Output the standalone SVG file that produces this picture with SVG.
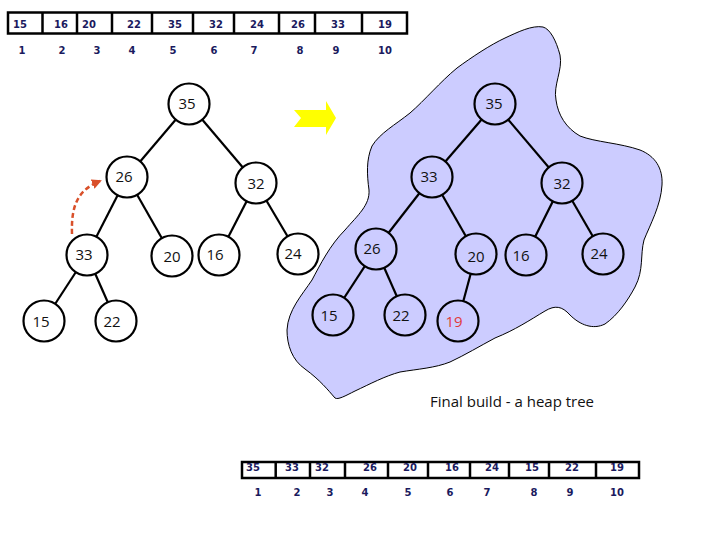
<svg xmlns="http://www.w3.org/2000/svg" width="720" height="540" viewBox="0 0 720 540">
<defs>
<style>
.tbl{fill:#ffffff;stroke:#000;stroke-width:2.5}
.div{stroke:#000;stroke-width:2.5}
.tv{font-family:"DejaVu Sans","Liberation Sans",sans-serif;font-size:10px;font-weight:bold;fill:#1a1a5e;text-anchor:middle}
.nd{fill:#ffffff;stroke:#000;stroke-width:2.2}
.ndb{fill:#ccccff;stroke:#000;stroke-width:2.2}
.lb{font-family:"Open Sans","Liberation Sans",sans-serif;font-size:15px;fill:#111;text-anchor:middle}
.edge{stroke:#000;stroke-width:2.2;fill:none}
</style>
<marker id="ah" viewBox="0 0 10 10" refX="8" refY="5" markerWidth="4" markerHeight="4" orient="auto">
<path d="M0,0 L10,5 L0,10 z" fill="#d9502a"/>
</marker>
</defs>
<rect width="720" height="540" fill="#ffffff"/>

<!-- top array -->
<g id="array-top">
<rect class="tbl" x="8" y="12.5" width="399" height="21"/>
<path class="div" d="M42.5,12.5V33.5M77,12.5V33.5M112,12.5V33.5M152,12.5V33.5M193,12.5V33.5M234,12.5V33.5M279,12.5V33.5M315,12.5V33.5M362,12.5V33.5"/>
<text class="tv" x="20" y="28">15</text>
<text class="tv" x="61" y="28">16</text>
<text class="tv" x="89" y="28">20</text>
<text class="tv" x="134" y="28">22</text>
<text class="tv" x="175" y="28">35</text>
<text class="tv" x="216" y="28">32</text>
<text class="tv" x="257" y="28">24</text>
<text class="tv" x="298" y="28">26</text>
<text class="tv" x="338" y="28">33</text>
<text class="tv" x="385" y="28">19</text>
<text class="tv" x="22" y="54">1</text>
<text class="tv" x="62" y="54">2</text>
<text class="tv" x="97" y="54">3</text>
<text class="tv" x="132" y="54">4</text>
<text class="tv" x="173" y="54">5</text>
<text class="tv" x="214" y="54">6</text>
<text class="tv" x="254" y="54">7</text>
<text class="tv" x="300" y="54">8</text>
<text class="tv" x="336" y="54">9</text>
<text class="tv" x="385" y="54">10</text>
</g>

<!-- blob -->
<path id="heap-region" d="M543,27 C550,29 556,40 560,55 C563,70 553,85 556,100 C558,115 566,128 580,136 C595,142 620,143 640,150 C655,156 663,168 662,185 C661,205 650,225 644,240 C640,255 644,270 635,287 C628,300 618,315 605,324 C593,330 580,325 570,315 C562,306 555,305 545,311 C530,320 515,330 495,338 C480,346 465,355 450,362 C435,368 418,369 400,372 C385,376 370,384 355,391 C345,396 338,400 335,398 C328,390 320,380 305,369 C292,360 287,345 287,330 C288,310 302,295 312,280 C320,265 330,245 345,230 C358,215 370,205 369,190 C367,175 366,160 372,146 C380,133 395,125 410,113 C425,100 440,82 457,68 C472,57 490,45 505,38 C518,32 532,25 543,27 Z" fill="#ccccff" stroke="#000" stroke-width="1"/>

<!-- yellow arrow -->
<polygon id="yellow-arrow" points="294,110 326,110 326,101 336,118 326,135 326,127 294,127 301,118" fill="#ffff00"/>

<!-- connectors -->
<g id="connectors">
<line class="edge" x1="189" y1="104" x2="127" y2="177"/>
<line class="edge" x1="189" y1="104" x2="256" y2="183"/>
<line class="edge" x1="127" y1="177" x2="87" y2="255"/>
<line class="edge" x1="127" y1="177" x2="172" y2="256"/>
<line class="edge" x1="256" y1="183" x2="219" y2="255"/>
<line class="edge" x1="256" y1="183" x2="298" y2="254"/>
<line class="edge" x1="87" y1="255" x2="44" y2="321"/>
<line class="edge" x1="87" y1="255" x2="116" y2="321"/>
<line class="edge" x1="495" y1="104" x2="432" y2="177"/>
<line class="edge" x1="495" y1="104" x2="562" y2="183"/>
<line class="edge" x1="432" y1="177" x2="376" y2="249"/>
<line class="edge" x1="432" y1="177" x2="476" y2="254"/>
<line class="edge" x1="562" y1="183" x2="526" y2="255"/>
<line class="edge" x1="562" y1="183" x2="603" y2="254"/>
<line class="edge" x1="376" y1="249" x2="333" y2="315"/>
<line class="edge" x1="376" y1="249" x2="405" y2="315"/>
<line class="edge" x1="476" y1="254" x2="458" y2="321"/>
<path d="M72,234 C71,205 78,190 100,181" fill="none" stroke="#d9502a" stroke-width="2.5" stroke-dasharray="5,3" marker-end="url(#ah)"/>
</g>

<!-- left tree nodes -->
<g id="L35"><circle class="nd" cx="189" cy="104" r="20.5"/><text class="lb" x="187" y="109">35</text></g>
<g id="L26"><circle class="nd" cx="127" cy="177" r="20.5"/><text class="lb" x="124" y="182">26</text></g>
<g id="L32"><circle class="nd" cx="256" cy="183" r="20.5"/><text class="lb" x="256" y="189">32</text></g>
<g id="L33"><circle class="nd" cx="87" cy="255" r="20.5"/><text class="lb" x="84" y="260">33</text></g>
<g id="L20"><circle class="nd" cx="172" cy="256" r="20.5"/><text class="lb" x="172" y="262">20</text></g>
<g id="L16"><circle class="nd" cx="219" cy="255" r="20.5"/><text class="lb" x="215" y="260">16</text></g>
<g id="L24"><circle class="nd" cx="298" cy="254" r="20.5"/><text class="lb" x="293" y="259">24</text></g>
<g id="L15"><circle class="nd" cx="44" cy="321" r="20.5"/><text class="lb" x="41" y="327">15</text></g>
<g id="L22"><circle class="nd" cx="116" cy="321" r="20.5"/><text class="lb" x="112" y="327">22</text></g>

<!-- right tree nodes -->
<g id="R35"><circle class="ndb" cx="495" cy="104" r="20.5"/><text class="lb" x="494" y="109">35</text></g>
<g id="R33"><circle class="ndb" cx="432" cy="177" r="20.5"/><text class="lb" x="429" y="182">33</text></g>
<g id="R32"><circle class="ndb" cx="562" cy="183" r="20.5"/><text class="lb" x="562" y="189">32</text></g>
<g id="R26"><circle class="ndb" cx="376" cy="249" r="20.5"/><text class="lb" x="372" y="254">26</text></g>
<g id="R20"><circle class="ndb" cx="476" cy="254" r="20.5"/><text class="lb" x="476" y="262">20</text></g>
<g id="R16"><circle class="ndb" cx="526" cy="255" r="20.5"/><text class="lb" x="521" y="261">16</text></g>
<g id="R24"><circle class="ndb" cx="603" cy="254" r="20.5"/><text class="lb" x="599" y="259">24</text></g>
<g id="R15"><circle class="ndb" cx="333" cy="315" r="20.5"/><text class="lb" x="329" y="321">15</text></g>
<g id="R22"><circle class="ndb" cx="405" cy="315" r="20.5"/><text class="lb" x="401" y="321">22</text></g>
<g id="R19"><circle class="ndb" cx="458" cy="321" r="20.5"/><text class="lb" x="454" y="327" fill="#e03a3a" style="fill:#e03a3a">19</text></g>

<text id="caption" x="512" y="407" font-family="Open Sans, Liberation Sans, sans-serif" font-size="15" fill="#111" text-anchor="middle">Final build - a heap tree</text>

<!-- bottom array -->
<g id="array-bottom">
<rect class="tbl" x="242" y="462" width="397" height="16"/>
<path class="div" d="M275.7,462V478M310,462V478M345,462V478M388,462V478M428,462V478M470,462V478M509,462V478M549,462V478M596,462V478"/>
<text class="tv" x="253" y="471">35</text>
<text class="tv" x="292" y="471">33</text>
<text class="tv" x="322" y="471">32</text>
<text class="tv" x="370" y="471">26</text>
<text class="tv" x="410" y="471">20</text>
<text class="tv" x="452" y="471">16</text>
<text class="tv" x="492" y="471">24</text>
<text class="tv" x="532" y="471">15</text>
<text class="tv" x="572" y="471">22</text>
<text class="tv" x="617" y="471">19</text>
<text class="tv" x="258" y="496">1</text>
<text class="tv" x="297" y="496">2</text>
<text class="tv" x="330" y="496">3</text>
<text class="tv" x="365" y="496">4</text>
<text class="tv" x="408" y="496">5</text>
<text class="tv" x="450" y="496">6</text>
<text class="tv" x="487" y="496">7</text>
<text class="tv" x="534" y="496">8</text>
<text class="tv" x="570" y="496">9</text>
<text class="tv" x="617" y="496">10</text>
</g>
</svg>
